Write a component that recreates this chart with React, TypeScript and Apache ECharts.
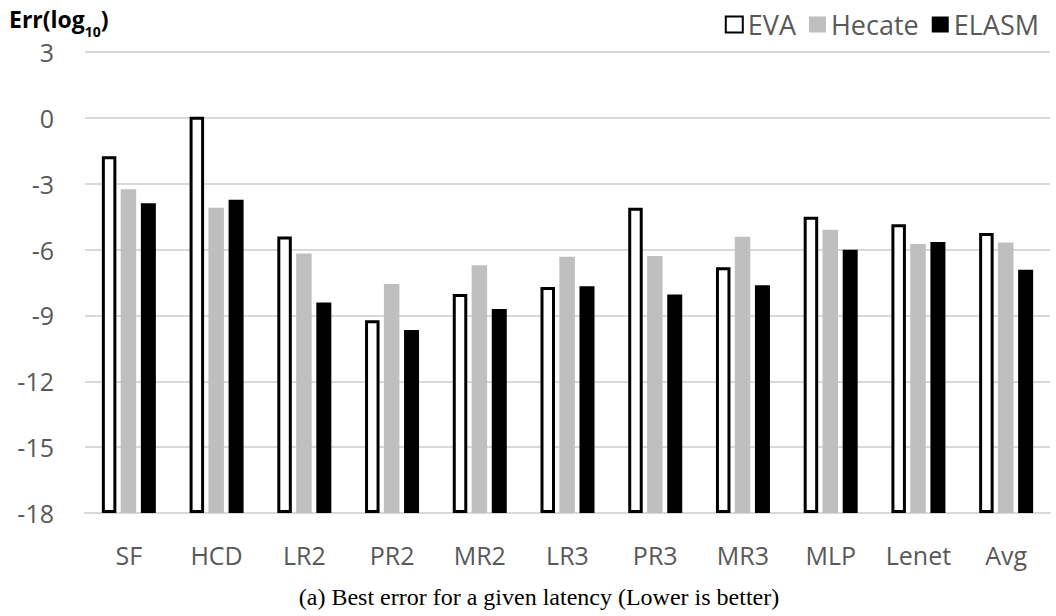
import React, { useEffect, useRef } from "react";
import * as echarts from "echarts";

// Benchmarks and best error (log10) per scheme
const categories = ["SF", "HCD", "LR2", "PR2", "MR2", "LR3", "PR3", "MR3", "MLP", "Lenet", "Avg"];
const evaErr = [-1.75, 0.05, -5.4, -9.22, -8.02, -7.7, -4.1, -6.8, -4.5, -4.85, -5.25];
const hecateErr = [-3.25, -4.09, -6.18, -7.57, -6.71, -6.33, -6.29, -5.42, -5.1, -5.75, -5.68];
const elasmErr = [-3.89, -3.73, -8.41, -9.66, -8.71, -7.67, -8.05, -7.62, -6.01, -5.65, -6.92];

// Axis range: bars grow up from the bottom of the axis
const yMin = -18;
const yMax = 3;
const yStep = 3;

const fromBase = (arr: number[]) => arr.map((v) => +(v - yMin).toFixed(3));

const LABEL_FONT = "'Open Sans', Lato, sans-serif";

export default function App() {
  const ref = useRef<HTMLDivElement>(null);

  useEffect(() => {
    if (!ref.current) return;
    const chart = echarts.init(ref.current, undefined, { renderer: "svg" });
    chart.setOption({
      animation: false,
      backgroundColor: "#ffffff",
      title: {
        text: "{b|Err(log}{s|10}{b|)}",
        left: 9,
        top: 2,
        padding: 0,
        textStyle: {
          rich: {
            b: { fontFamily: LABEL_FONT, fontWeight: "bold", fontSize: 23, color: "#000", verticalAlign: "bottom", lineHeight: 28 },
            s: { fontFamily: LABEL_FONT, fontWeight: "bold", fontSize: 14, color: "#000", verticalAlign: "bottom", lineHeight: 14, padding: [0, 0, -8, 0] },
          },
        },
      },
      legend: {
        right: 12,
        top: 6,
        itemWidth: 17,
        itemHeight: 16,
        itemGap: 13,
        icon: "rect",
        textStyle: { fontFamily: LABEL_FONT, fontSize: 27, color: "#595959" },
        data: ["EVA", "Hecate", "ELASM"],
      },
      grid: { left: 85, right: 6, top: 52, bottom: 103 },
      xAxis: {
        type: "category",
        data: categories,
        axisTick: { show: false },
        axisLine: { lineStyle: { color: "#d9d9d9", width: 2 } },
        axisLabel: { fontFamily: LABEL_FONT, fontSize: 25, color: "#595959", margin: 29 },
      },
      yAxis: {
        type: "value",
        min: 0,
        max: yMax - yMin,
        interval: yStep,
        axisLine: { show: false },
        axisTick: { show: false },
        splitLine: { lineStyle: { color: "#d9d9d9", width: 2 } },
        axisLabel: {
          fontFamily: LABEL_FONT,
          fontSize: 25,
          color: "#595959",
          margin: 31,
          formatter: (v: number) => String(Math.round(v + yMin)),
        },
      },
      series: [
        {
          name: "EVA",
          type: "bar",
          data: fromBase(evaErr),
          barWidth: 14.5,
          barGap: "33%",
          itemStyle: { color: "#ffffff", borderColor: "#000000", borderWidth: 3 },
        },
        {
          name: "Hecate",
          type: "bar",
          data: fromBase(hecateErr),
          barWidth: 15.5,
          barGap: "30%",
          itemStyle: { color: "#bfbfbf" },
        },
        {
          name: "ELASM",
          type: "bar",
          data: fromBase(elasmErr),
          barWidth: 15,
          barGap: "30%",
          itemStyle: { color: "#000000" },
        },
      ],
      graphic: [
        {
          type: "text",
          x: 539,
          y: 597,
          style: {
            text: "(a) Best error for a given latency (Lower is better)",
            fontFamily: "'Liberation Serif', 'Times New Roman', serif",
            fontSize: 24,
            fill: "#000",
            align: "center",
            verticalAlign: "middle",
          },
        },
      ],
    });
    return () => chart.dispose();
  }, []);

  return (
    <div
      ref={ref}
      style={{ position: "fixed", left: 0, top: 0, width: 1056, height: 616 }}
    />
  );
}
